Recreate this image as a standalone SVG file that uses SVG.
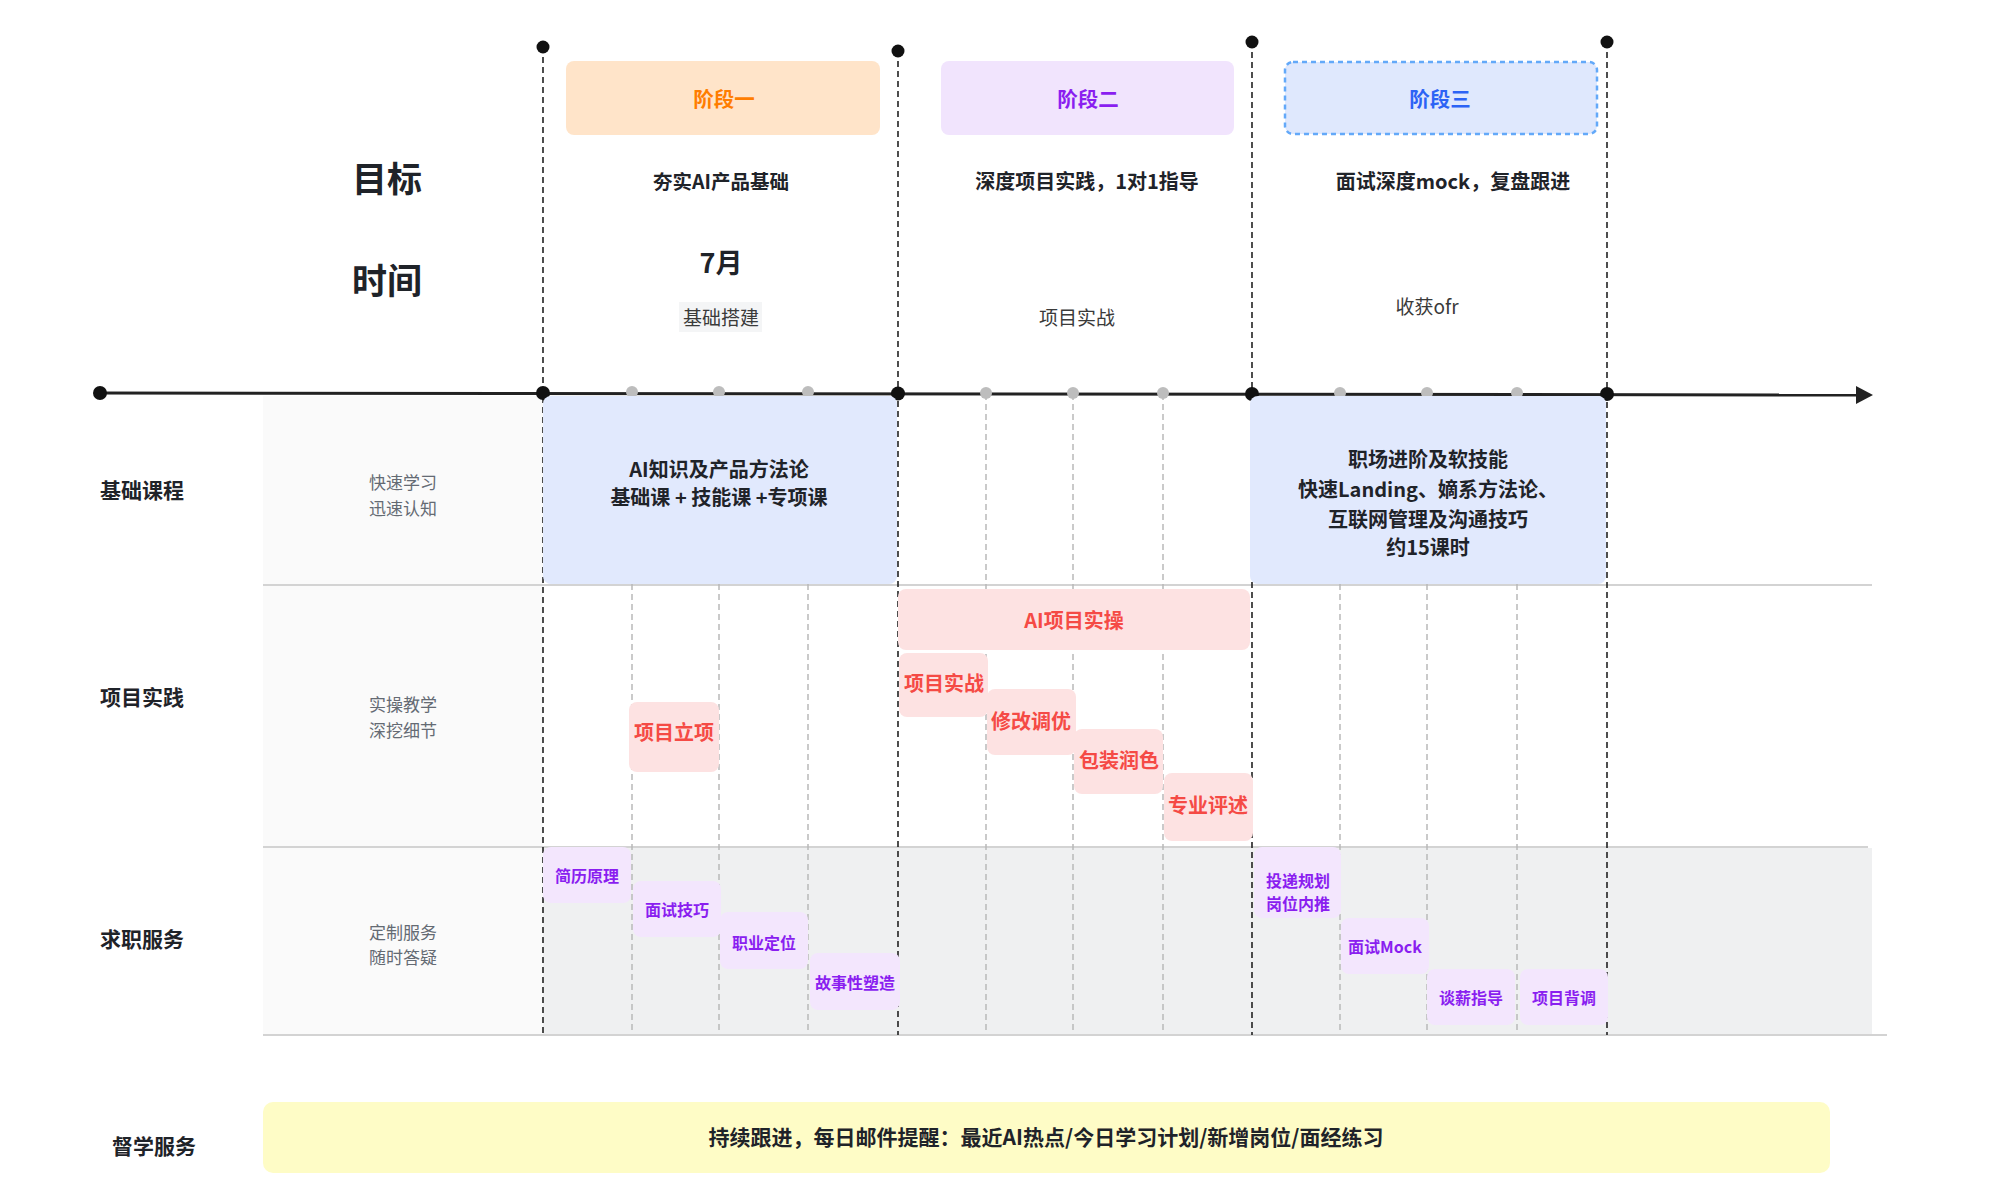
<svg xmlns="http://www.w3.org/2000/svg" width="1989" height="1191" viewBox="0 0 1989 1191">
<style>
text{font-family:"Noto Sans CJK SC","Noto Sans",sans-serif;dominant-baseline:central;text-anchor:middle;}
.h1{font-size:35px;font-weight:700;fill:#1f2329;}
.ph{font-size:20.5px;font-weight:700;}
.goal{font-size:20px;font-weight:600;fill:#1f2329;}
.time{font-size:19px;font-weight:400;fill:#3a3a3a;}
.row{font-size:21px;font-weight:700;fill:#1f2329;text-anchor:start;}
.sub{font-size:17px;font-weight:400;fill:#646a73;}
.blue{font-size:20px;font-weight:600;fill:#1f2329;}
.red{font-size:20px;font-weight:700;fill:#f54a45;}
.pur{font-size:16px;font-weight:700;fill:#8a1ef0;}
.pinkbox{fill:#fde2e2;}
.purbox{fill:#f3e6fd;}
.bdash{stroke:#222;stroke-width:1.6;stroke-dasharray:6 4;fill:none;}
.gdash{stroke:#b9b9b9;stroke-width:1.5;stroke-dasharray:6 4;fill:none;}
.rule{stroke:#d3d3d3;stroke-width:2;}
</style>

<g id="background">
<rect x="263" y="396" width="280" height="639" fill="#fafafa"/>
<rect x="543" y="848" width="1329" height="186" fill="#eff0f1"/>
<line class="rule" x1="263" y1="585" x2="1872" y2="585"/>
<line class="rule" x1="263" y1="847" x2="1868" y2="847"/>
<line class="rule" x1="263" y1="1035" x2="1887" y2="1035"/>
</g>

<g id="connectors">
<line class="gdash" x1="632" y1="394" x2="632" y2="1032"/>
<line class="gdash" x1="719" y1="394" x2="719" y2="1032"/>
<line class="gdash" x1="808" y1="394" x2="808" y2="1032"/>
<line class="gdash" x1="986" y1="394" x2="986" y2="1032"/>
<line class="gdash" x1="1073" y1="394" x2="1073" y2="1032"/>
<line class="gdash" x1="1163" y1="394" x2="1163" y2="1032"/>
<line class="gdash" x1="1340" y1="394" x2="1340" y2="1032"/>
<line class="gdash" x1="1427" y1="394" x2="1427" y2="1032"/>
<line class="gdash" x1="1517" y1="394" x2="1517" y2="1032"/>
<line class="bdash" x1="543" y1="47" x2="543" y2="1035"/>
<line class="bdash" x1="898" y1="51" x2="898" y2="1035"/>
<line class="bdash" x1="1252" y1="42" x2="1252" y2="1035"/>
<line class="bdash" x1="1607" y1="42" x2="1607" y2="1035"/>
<line x1="100" y1="393" x2="1860" y2="395" stroke="#222" stroke-width="3"/>
<polygon points="1873,395 1856,386 1856,404" fill="#222"/>
<g fill="#111">
<circle cx="543" cy="47" r="6.5"/>
<circle cx="898" cy="51" r="6.5"/>
<circle cx="1252" cy="42" r="6.5"/>
<circle cx="1607" cy="42" r="6.5"/>
<circle cx="100" cy="393" r="7"/>
<circle cx="543" cy="393" r="7"/>
<circle cx="898" cy="393.5" r="7"/>
<circle cx="1252" cy="394" r="7"/>
<circle cx="1607" cy="394" r="7"/>
</g>
<g fill="#bdbdbd">
<circle cx="632" cy="392" r="6"/>
<circle cx="719" cy="392" r="6"/>
<circle cx="808" cy="392" r="6"/>
<circle cx="986" cy="393" r="6"/>
<circle cx="1073" cy="393" r="6"/>
<circle cx="1163" cy="393" r="6"/>
<circle cx="1340" cy="393" r="6"/>
<circle cx="1427" cy="393" r="6"/>
<circle cx="1517" cy="393" r="6"/>
</g>
</g>

<g id="labels-left">
<text class="h1" x="387" y="176">目标</text>
<text class="h1" x="387" y="278">时间</text>
<text class="row" x="100" y="489">基础课程</text>
<text class="row" x="100" y="696">项目实践</text>
<text class="row" x="100" y="938">求职服务</text>
<text class="row" x="112" y="1145">督学服务</text>
<text class="sub" x="403" y="481">快速学习</text>
<text class="sub" x="403" y="507">迅速认知</text>
<text class="sub" x="403" y="703">实操教学</text>
<text class="sub" x="403" y="729">深挖细节</text>
<text class="sub" x="403" y="931">定制服务</text>
<text class="sub" x="403" y="956">随时答疑</text>
</g>

<g id="phase1">
<rect x="566" y="61" width="314" height="74" rx="8" fill="#ffe4c9"/>
<text class="ph" x="724" y="98" fill="#ff7d00">阶段一</text>
<text class="goal" x="721" y="180" style="font-size:19.5px">夯实AI产品基础</text>
<text x="721" y="261" style="font-size:27px;font-weight:700;fill:#1f2329">7月</text>
<rect x="679" y="302" width="83" height="30" fill="#f4f5f6"/>
<text class="time" x="721" y="316">基础搭建</text>
</g>

<g id="phase2">
<rect x="941" y="61" width="293" height="74" rx="8" fill="#f1e4fd"/>
<text class="ph" x="1088" y="98" fill="#8a1ef0">阶段二</text>
<text class="goal" x="1087" y="180">深度项目实践，1对1指导</text>
<text class="time" x="1077" y="316">项目实战</text>
</g>

<g id="phase3">
<rect x="1285" y="62" width="312" height="72" rx="8" fill="#dfe8fd" stroke="#63a9f9" stroke-width="2.5" stroke-dasharray="5 4"/>
<text class="ph" x="1440" y="98" fill="#2c63f5">阶段三</text>
<text class="goal" x="1453" y="180">面试深度mock，复盘跟进</text>
<text class="time" x="1427" y="305">收获ofr</text>
</g>

<g id="course1">
<rect x="543" y="396" width="354" height="188" rx="8" fill="#e1e9fd"/>
<text class="blue" x="719" y="468">AI知识及产品方法论</text>
<text class="blue" x="719" y="496">基础课 + 技能课 +专项课</text>
</g>

<g id="course3">
<rect x="1250" y="396" width="356" height="188" rx="8" fill="#e1e9fd"/>
<text class="blue" x="1428" y="458">职场进阶及软技能</text>
<text class="blue" x="1428" y="488">快速Landing、嫡系方法论、</text>
<text class="blue" x="1428" y="518">互联网管理及沟通技巧</text>
<text class="blue" x="1428" y="546">约15课时</text>
</g>

<g id="proj-lixiang">
<rect class="pinkbox" x="629" y="702" width="90" height="70" rx="8"/>
<text class="red" x="674" y="731">项目立项</text>
</g>
<g id="proj-ai">
<rect class="pinkbox" x="898" y="589" width="352" height="61" rx="8"/>
<text class="red" x="1074" y="619">AI项目实操</text>
</g>
<g id="proj-shizhan">
<rect class="pinkbox" x="899" y="653" width="89" height="64" rx="8"/>
<text class="red" x="944" y="682">项目实战</text>
</g>
<g id="proj-tiaoyou">
<rect class="pinkbox" x="987" y="689" width="89" height="66" rx="8"/>
<text class="red" x="1031" y="720">修改调优</text>
</g>
<g id="proj-runse">
<rect class="pinkbox" x="1074" y="729" width="89" height="65" rx="8"/>
<text class="red" x="1119" y="759">包装润色</text>
</g>
<g id="proj-pingshu">
<rect class="pinkbox" x="1164" y="773" width="89" height="68" rx="8"/>
<text class="red" x="1208" y="804">专业评述</text>
</g>

<g id="job-jianli">
<rect class="purbox" x="543" y="847" width="88" height="56" rx="8"/>
<text class="pur" x="587" y="875">简历原理</text>
</g>
<g id="job-mianshi">
<rect class="purbox" x="633" y="881" width="88" height="56" rx="8"/>
<text class="pur" x="677" y="909">面试技巧</text>
</g>
<g id="job-dingwei">
<rect class="purbox" x="720" y="912" width="88" height="57" rx="8"/>
<text class="pur" x="764" y="942">职业定位</text>
</g>
<g id="job-gushi">
<rect class="purbox" x="810" y="953" width="90" height="57" rx="8"/>
<text class="pur" x="855" y="982">故事性塑造</text>
</g>
<g id="job-toudi">
<rect class="purbox" x="1254" y="847" width="87" height="71" rx="8"/>
<text class="pur" x="1298" y="880">投递规划</text>
<text class="pur" x="1298" y="903">岗位内推</text>
</g>
<g id="job-mock">
<rect class="purbox" x="1341" y="918" width="88" height="56" rx="8"/>
<text class="pur" x="1385" y="946">面试Mock</text>
</g>
<g id="job-tanxin">
<rect class="purbox" x="1427" y="969" width="88" height="56" rx="8"/>
<text class="pur" x="1471" y="997">谈薪指导</text>
</g>
<g id="job-beidiao">
<rect class="purbox" x="1520" y="969" width="88" height="56" rx="8"/>
<text class="pur" x="1564" y="997">项目背调</text>
</g>

<g id="supervise">
<rect x="263" y="1102" width="1567" height="71" rx="10" fill="#fefcc6"/>
<text class="blue" x="1046" y="1136" style="font-size:21px">持续跟进，每日邮件提醒：最近AI热点/今日学习计划/新增岗位/面经练习</text>
</g>
</svg>
